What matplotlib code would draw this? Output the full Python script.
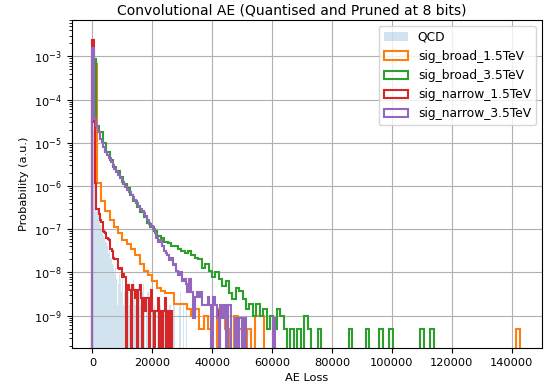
import numpy as np
import matplotlib
matplotlib.use("Agg")
import matplotlib.pyplot as plt

# AE loss range covered by each histogram (100 bins each, starting at 0)
qcd_max = 31500
broad15_max = 142900
broad35_max = 114000
narrow15_max = 42600
narrow35_max = 61000

# bin densities (0 = empty bin)
qcd = [
    3.2e-3, 2.0e-5, 2.5e-6, 8.0e-7, 4.0e-7, 2.8e-7, 2.0e-7, 1.6e-7, 1.26e-7, 1.0e-7,
    9.0e-8, 7.0e-8, 6.3e-8, 5.0e-8, 5.0e-8, 4.0e-8, 3.5e-8, 2.8e-8, 3.2e-8, 2.0e-8,
    2.2e-8, 1.6e-8, 1.4e-8, 9.0e-9, 1.26e-8, 7.2e-9, 1.8e-9, 5.4e-9, 9.0e-9, 7.2e-9,
    3.6e-9, 9.0e-9, 1.8e-9, 3.6e-9, 7.2e-9, 5.4e-9, 7.2e-9, 1.8e-9, 3.6e-9, 1.8e-9,
    0, 1.8e-9, 3.6e-9, 7.2e-9, 5.4e-9, 1.8e-9, 0, 3.6e-9, 5.4e-9, 3.6e-9,
    1.8e-9, 3.6e-9, 0, 3.6e-9, 5.4e-9, 1.8e-9, 0, 1.8e-9, 3.6e-9, 3.6e-9,
    1.8e-9, 0, 0, 1.8e-9, 0, 1.8e-9, 0, 0, 1.8e-9, 1.8e-9,
    0, 0, 1.8e-9, 0, 0, 0, 1.8e-9, 0, 0, 0,
    0, 1.8e-9, 1.8e-9, 0, 0, 1.8e-9, 3.6e-9, 0, 0, 0,
    0, 0, 1.8e-9, 3.6e-9, 0, 0, 1.8e-9, 0, 0, 1.8e-9,
]

sig_broad_15 = [
    6.8e-4, 1.15e-6, 4.4e-7, 2.6e-7, 1.6e-7, 1.1e-7, 8.0e-8, 5.6e-8, 4.5e-8, 3.5e-8,
    2.5e-8, 1.6e-8, 1.1e-8, 8.6e-9, 6.2e-9, 4.3e-9, 3.8e-9, 3.4e-9, 3.4e-9, 1.9e-9,
    1.9e-9, 1.9e-9, 1.44e-9, 9.6e-10, 1.44e-9, 4.8e-10, 9.6e-10, 4.8e-10, 0, 1.44e-9,
    1.44e-9, 4.8e-10, 0, 9.6e-10, 4.8e-10, 0, 4.8e-10, 0, 9.6e-10, 9.6e-10,
    0, 0, 0, 0, 0, 0, 0, 0, 0, 0,
    0, 0, 0, 0, 0, 0, 0, 0, 0, 0,
    0, 0, 0, 0, 0, 0, 0, 0, 0, 0,
    0, 0, 0, 0, 0, 0, 0, 0, 0, 0,
    0, 0, 0, 0, 0, 0, 0, 0, 0, 0,
    0, 0, 0, 0, 0, 0, 0, 0, 0, 4.8e-10,
]

sig_broad_35 = [
    8.5e-4, 2.5e-5, 1.8e-5, 1.0e-5, 6.3e-6, 4.0e-6, 2.8e-6, 2.2e-6, 1.6e-6, 1.1e-6,
    8.9e-7, 6.3e-7, 4.5e-7, 3.2e-7, 2.5e-7, 1.9e-7, 1.4e-7, 1.1e-7, 8.9e-8, 7.1e-8,
    6.3e-8, 5.2e-8, 4.8e-8, 4.2e-8, 4.0e-8, 3.5e-8, 3.2e-8, 2.8e-8, 3.2e-8, 2.5e-8,
    2.2e-8, 2.0e-8, 1.3e-8, 1.6e-8, 1.1e-8, 7.9e-9, 1.0e-8, 7.2e-9, 4.8e-9, 6.2e-9,
    3.4e-9, 2.4e-9, 4.3e-9, 3.8e-9, 2.4e-9, 1.44e-9, 1.9e-9, 9.6e-10, 1.9e-9, 9.6e-10,
    1.44e-9, 4.8e-10, 9.6e-10, 4.8e-10, 1.44e-9, 9.6e-10, 4.8e-10, 0, 4.8e-10, 0,
    4.8e-10, 0, 9.6e-10, 4.8e-10, 0, 0, 4.8e-10, 0, 0, 0,
    0, 0, 0, 0, 0, 4.8e-10, 0, 0, 0, 0,
    4.8e-10, 0, 0, 0, 4.8e-10, 0, 0, 4.8e-10, 0, 0,
    0, 0, 0, 0, 0, 0, 4.8e-10, 0, 0, 4.8e-10,
]

sig_narrow_15 = [
    2.35e-3, 3.0e-5, 1.2e-6, 3.0e-7, 3.0e-7, 2.2e-7, 1.6e-7, 1.5e-7, 9.0e-8, 8.5e-8,
    8.0e-8, 6.2e-8, 6.0e-8, 5.5e-8, 3.5e-8, 3.2e-8, 2.2e-8, 2.1e-8, 2.0e-8, 2.1e-8,
    1.3e-8, 1.2e-8, 1.26e-8, 7.8e-9, 9.1e-9, 7.8e-9, 0, 3.9e-9, 5.2e-9, 3.9e-9,
    0, 5.2e-9, 3.9e-9, 2.6e-9, 3.9e-9, 0, 3.9e-9, 5.2e-9, 2.6e-9, 0,
    2.6e-9, 1.3e-9, 2.6e-9, 2.6e-9, 0, 2.6e-9, 3.9e-9, 1.3e-9, 0, 1.3e-9,
    1.3e-9, 2.6e-9, 0, 1.3e-9, 0, 1.3e-9, 1.3e-9, 2.6e-9, 0, 1.3e-9,
    0, 1.3e-9, 0, 0, 0, 0, 0, 0, 0, 0,
    0, 0, 0, 0, 0, 0, 0, 0, 0, 0,
    0, 0, 0, 0, 0, 0, 0, 0, 0, 0,
    0, 0, 0, 0, 0, 0, 0, 0, 0, 1.3e-9,
]

sig_narrow_35 = [
    1.6e-3, 3.5e-5, 2.5e-5, 1.8e-5, 1.26e-5, 1.05e-5, 7.9e-6, 6.3e-6, 5.2e-6, 4.5e-6,
    3.6e-6, 3.0e-6, 2.5e-6, 2.1e-6, 1.8e-6, 1.5e-6, 1.26e-6, 1.1e-6, 9.3e-7, 8.3e-7,
    7.2e-7, 6.3e-7, 5.5e-7, 4.7e-7, 4.0e-7, 3.5e-7, 3.0e-7, 2.6e-7, 2.4e-7, 2.0e-7,
    1.66e-7, 1.3e-7, 1.2e-7, 1.0e-7, 8.3e-8, 6.3e-8, 5.0e-8, 5.6e-8, 4.0e-8, 3.2e-8,
    2.8e-8, 2.5e-8, 1.9e-8, 2.2e-8, 1.5e-8, 1.6e-8, 1.1e-8, 8.7e-9, 1.0e-8, 6.3e-9,
    7.2e-9, 5.4e-9, 3.6e-9, 7.2e-9, 3.6e-9, 9.0e-10, 2.7e-9, 3.6e-9, 2.7e-9, 3.6e-9,
    1.8e-9, 1.8e-9, 1.8e-9, 2.7e-9, 1.8e-9, 0, 2.7e-9, 1.8e-9, 9.0e-10, 0,
    1.8e-9, 9.0e-10, 1.8e-9, 0, 1.8e-9, 1.8e-9, 0, 0, 9.0e-10, 0,
    9.0e-10, 9.0e-10, 0, 9.0e-10, 0, 0, 0, 0, 0, 0,
    0, 0, 0, 0, 0, 0, 0, 0, 0, 9.0e-10,
]

signals = [
    ("sig_broad_1.5TeV", sig_broad_15, broad15_max, "C1"),
    ("sig_broad_3.5TeV", sig_broad_35, broad35_max, "C2"),
    ("sig_narrow_1.5TeV", sig_narrow_15, narrow15_max, "C3"),
    ("sig_narrow_3.5TeV", sig_narrow_35, narrow35_max, "C4"),
]

plt.rcParams["font.size"] = 8.2

fig = plt.figure(figsize=(5.48, 3.90), dpi=100)
ax = fig.add_axes([0.131, 0.108, 0.858, 0.841])
ax.set_yscale("log")

edges = np.linspace(0, qcd_max, len(qcd) + 1)
ax.hist(edges[:-1], bins=edges, weights=qcd, histtype="stepfilled",
        alpha=0.2, color="C0", label="QCD")
for name, vals, xmax, col in signals:
    edges = np.linspace(0, xmax, len(vals) + 1)
    ax.hist(edges[:-1], bins=edges, weights=vals, histtype="step",
            color=col, linewidth=1.5, label=name)

ax.set_xlim(-6900, 150100)
ax.set_ylim(1.8e-10, 7e-3)
ax.set_xlabel("AE Loss")
ax.set_ylabel("Probability (a.u.)")
fig.suptitle("Convolutional AE (Quantised and Pruned at 8 bits)",
             x=0.532, y=0.99, va="top", fontsize=10)
ax.grid(True)
ax.legend(loc="upper right", fontsize=8.8)

fig.savefig("out.png", dpi=100)
